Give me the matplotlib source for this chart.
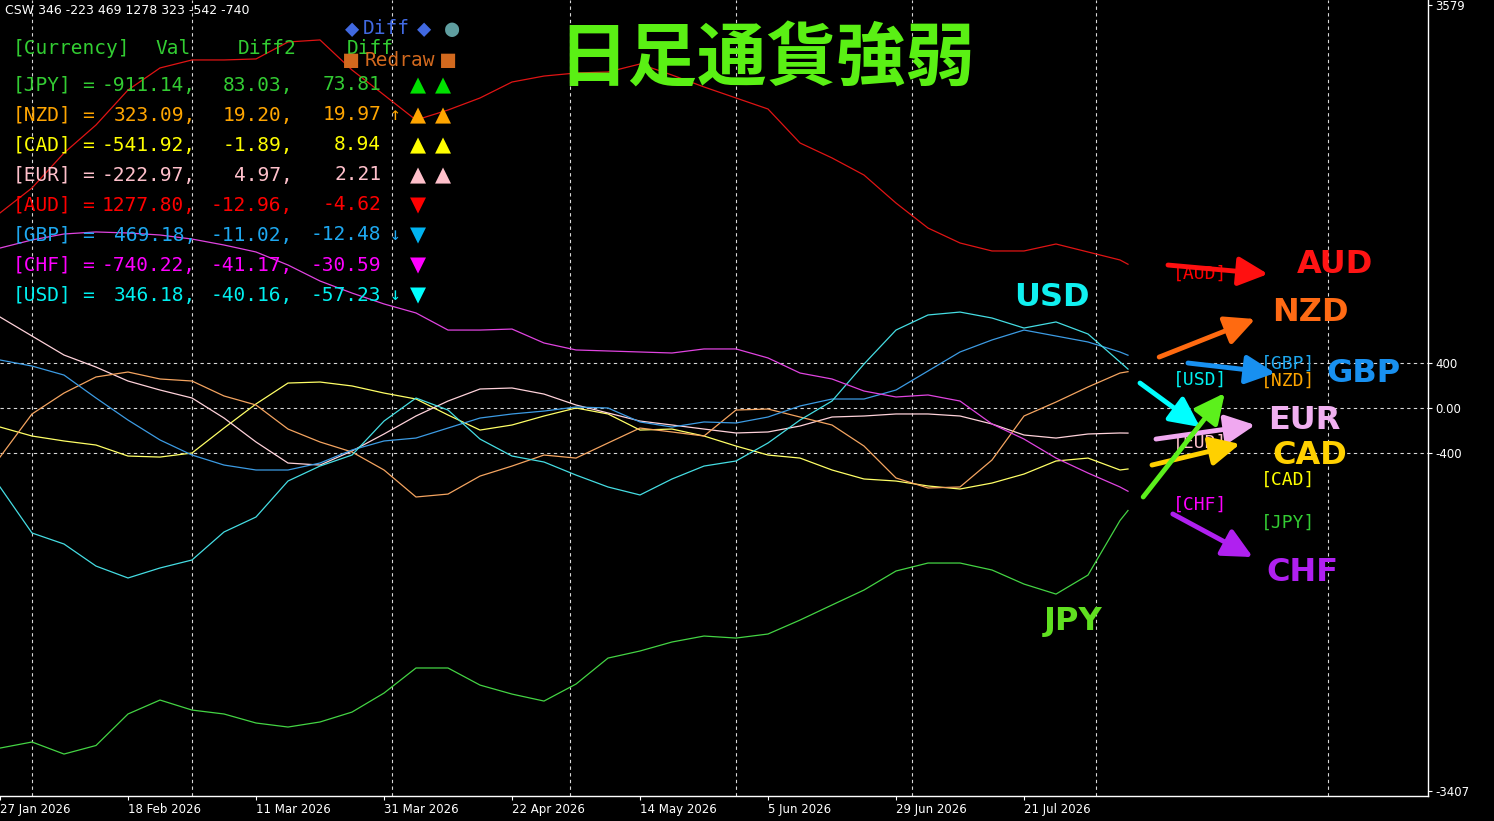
import matplotlib
matplotlib.use("Agg")
import matplotlib.pyplot as plt
import pandas as pd

plt.rcParams["font.family"] = ["DejaVu Sans", "Noto Sans CJK JP"]

W, H = 1494, 821

# 足番号 (4本ごと + 最終足)
bars = list(range(0, 141, 4)) + [141]

usd = [-702, -1111, -1209, -1405, -1511, -1422, -1351, -1102, -969, -649, -516, -418, -116, 89,
       -18, -276, -427, -480, -596, -702, -773, -631, -516, -471, -311, -107, 62, 391, 693, 827,
       853, 800, 711, 765, 658, 409, 346]
eur = [809, 640, 471, 364, 240, 160, 89, -89, -302, -489, -507, -382, -231, -71, 62, 169, 178,
       124, 27, -44, -116, -151, -187, -222, -213, -160, -80, -71, -53, -53, -71, -142, -240,
       -267, -231, -222, -223]
gbp = [427, 373, 293, 89, -107, -284, -418, -507, -551, -551, -489, -373, -293, -267, -178, -89,
       -53, -27, 9, 0, -124, -169, -124, -133, -80, 18, 80, 80, 160, 329, 498, 605, 693, 640,
       587, 498, 469]
aud = [1734, 1956, 2267, 2516, 2827, 3023, 3094, 3094, 3103, 3254, 3272, 3005, 2783, 2560, 2649,
       2756, 2898, 2951, 2978, 2987, 3058, 2960, 2854, 2756, 2658, 2356, 2223, 2071, 1822, 1600,
       1467, 1396, 1396, 1458, 1387, 1316, 1278]
nzd = [-436, -53, 133, 276, 320, 258, 240, 107, 27, -187, -302, -391, -551, -791, -765, -605,
       -516, -418, -445, -311, -178, -213, -249, -18, -9, -80, -151, -338, -622, -711, -702,
       -462, -71, 53, 187, 311, 323]
cad = [-169, -249, -293, -329, -427, -436, -400, -178, 36, 222, 231, 196, 133, 80, -62, -196,
       -151, -71, 0, -53, -196, -187, -249, -338, -418, -445, -551, -631, -649, -693, -720,
       -667, -587, -471, -445, -551, -542]
chf = [1422, 1494, 1547, 1565, 1556, 1538, 1502, 1449, 1387, 1271, 1129, 1022, 925, 845, 693,
       693, 702, 578, 516, 507, 498, 489, 525, 525, 445, 311, 258, 151, 98, 116, 62, -142, -276,
       -445, -578, -702, -740]
jpy = [-3023, -2969, -3076, -3000, -2720, -2596, -2685, -2720, -2800, -2836, -2791, -2703, -2534,
       -2311, -2311, -2463, -2543, -2605, -2454, -2223, -2160, -2080, -2027, -2045, -2009, -1885,
       -1751, -1618, -1449, -1378, -1378, -1440, -1565, -1654, -1485, -1000, -911]

date_ticks = [0, 16, 32, 48, 64, 80, 96, 112, 128]
date_labels = ["27 Jan 2026", "18 Feb 2026", "11 Mar 2026", "31 Mar 2026", "22 Apr 2026",
               "14 May 2026", "5 Jun 2026", "29 Jun 2026", "21 Jul 2026"]
month_starts = [4, 24, 49, 71.2, 92, 114, 137, 166]
level_lines = [400, 0, -400]
y_ticks = [3579, 400, 0, -400, -3407]
y_tick_labels = ["3579", "400", "0.00", "-400", "-3407"]

# 表示テーブル
table_currencies = ["JPY", "NZD", "CAD", "EUR", "AUD", "GBP", "CHF", "USD"]
table_val = [-911.14, 323.09, -541.92, -222.97, 1277.80, 469.18, -740.22, 346.18]
table_diff2 = [83.03, 19.20, -1.89, 4.97, -12.96, -11.02, -41.17, -40.16]
table_diff = [73.81, 19.97, 8.94, 2.21, -4.62, -12.48, -30.59, -57.23]
table_arrow = ["", "↑", "", "", "", "↓", "", "↓"]
table_marks = ["▲▲", "▲▲", "▲▲", "▲▲", "▼", "▼", "▼", "▼"]
csw_order = ["USD", "EUR", "GBP", "AUD", "NZD", "CAD", "CHF"]

line_colors = {
    "USD": "#45dde3", "EUR": "#ffd2da", "GBP": "#3c9be3", "AUD": "#e01414",
    "NZD": "#f4a460", "CAD": "#ffff66", "CHF": "#e044e0", "JPY": "#44d444",
}
text_colors = {
    "JPY": "#33cc33", "NZD": "#ffa500", "CAD": "#ffff00", "EUR": "#ffc0cb",
    "AUD": "#ff0000", "GBP": "#1ea8f0", "CHF": "#ff00ff", "USD": "#00f0f0",
}
mark_colors = {
    "JPY": "#00e000", "NZD": "#ffa500", "CAD": "#ffff00", "EUR": "#ffc0cb",
    "AUD": "#ff0000", "GBP": "#00b4f0", "CHF": "#ff00ff", "USD": "#00ffff",
}

strength = pd.DataFrame(
    {"USD": usd, "EUR": eur, "GBP": gbp, "AUD": aud, "NZD": nzd, "CAD": cad, "CHF": chf, "JPY": jpy},
    index=bars,
)


def fx(x):
    return x / W


def fy(y):
    return 1 - y / H


fig = plt.figure(figsize=(W / 100, H / 100), dpi=100, facecolor="black")
ax = fig.add_axes([0, 25 / H, 1428 / W, 796 / H])
ax.set_facecolor("black")

for b in month_starts:
    ax.axvline(b, color="#d8d8d8", lw=0.8, ls=(0, (3, 3)), zorder=1)
for lv in level_lines:
    ax.axhline(lv, color="#d8d8d8", lw=0.8, ls=(0, (3, 3)), zorder=1)

for cur in ["JPY", "CAD", "EUR", "NZD", "GBP", "USD", "CHF", "AUD"]:
    ax.plot(strength.index, strength[cur], color=line_colors[cur], lw=0.9, zorder=2)

ax.set_xlim(0, 178.5)
ax.set_ylim(-3449, 3627)
for side in ["left", "top"]:
    ax.spines[side].set_visible(False)
for side in ["right", "bottom"]:
    ax.spines[side].set_color("white")
    ax.spines[side].set_linewidth(1)

ax.yaxis.tick_right()
ax.set_yticks(y_ticks, y_tick_labels)
ax.set_xticks(date_ticks, date_labels)
for lab in ax.get_xticklabels():
    lab.set_ha("left")
ax.tick_params(axis="both", colors="white", labelsize=8.5, length=3, pad=2)

# 右側の矢印とラベル
mono = ["DejaVu Sans Mono", "DejaVu Sans"]
bracket_labels = [
    ("AUD", 150, 1191), ("GBP", 161, 391), ("NZD", 161, 240), ("USD", 150, 249),
    ("EUR", 150, -311), ("CAD", 161, -640), ("CHF", 150, -862), ("JPY", 161, -1022),
]
for cur, bx, by in bracket_labels:
    ax.text(bx, by, f"[{cur}]", family=mono, fontsize=13, color=text_colors[cur],
            ha="center", va="center", zorder=3)

arrows = [
    ("#ff1010", (146, 1271), (158.5, 1191)),
    ("#ff6a10", (144.9, 453), (156.9, 791)),
    ("#1890f0", (148.5, 400), (159.4, 311)),
    ("#f0a8f0", (144.5, -276), (156.9, -151)),
    ("#ffd000", (144, -507), (155, -320)),
    ("#00ffff", (142.5, 222), (150, -169)),
    ("#5cf01c", (142.9, -791), (153.1, 133)),
    ("#b020f0", (146.6, -942), (156.6, -1325)),
]
for color, start, end in arrows:
    ax.annotate("", xy=end, xytext=start,
                arrowprops=dict(arrowstyle="-|>,head_length=0.45,head_width=0.22",
                                color=color, lw=3.5, mutation_scale=40,
                                shrinkA=0, shrinkB=0), zorder=4)

big_labels = [
    ("AUD", "#ff1414", 166.9, 1280), ("NZD", "#ff6a14", 163.75, 853),
    ("GBP", "#1890f0", 170.5, 311), ("EUR", "#f0b0f0", 163.1, -107),
    ("CAD", "#ffd000", 163.75, -418), ("CHF", "#b020f0", 162.75, -1458),
    ("USD", "#10f0f0", 131.5, 978), ("JPY", "#60e020", 134.1, -1902),
]
for name, color, bx, by in big_labels:
    ax.text(bx, by, name, family=["DejaVu Sans"], fontweight="bold",
            fontsize=23, color=color, ha="center", va="center", zorder=5)

# 左上のテーブル
csw = "CSW " + " ".join(str(round(table_val[table_currencies.index(c)])) for c in csw_order)
fig.text(fx(5), fy(11), csw, color="white", fontsize=9, va="center")

head_color = "#32cd32"
fig.text(fx(13), fy(48), "[Currency]", family=mono, fontsize=14, color=head_color, va="center")
fig.text(fx(155), fy(48), "Val", family=mono, fontsize=14, color=head_color, va="center")
fig.text(fx(238), fy(48), "Diff2", family=mono, fontsize=14, color=head_color, va="center")
fig.text(fx(347), fy(48), "Diff", family=mono, fontsize=14, color=head_color, va="center")

fig.text(fx(352), fy(29), "◆", family=mono, fontsize=17, color="#4169e1", ha="center", va="center")
fig.text(fx(363), fy(29), "Diff", family=mono, fontsize=14, color="#4169e1", va="center")
fig.text(fx(424), fy(29), "◆", family=mono, fontsize=17, color="#4169e1", ha="center", va="center")
fig.text(fx(452), fy(29), "●", family=mono, fontsize=17, color="#5f9ea0", ha="center", va="center")
fig.text(fx(351), fy(60), "■", family=mono, fontsize=17, color="#d2691e", ha="center", va="center")
fig.text(fx(365), fy(60), "Redraw", family=mono, fontsize=14, color="#d2691e", va="center")
fig.text(fx(448), fy(60), "■", family=mono, fontsize=17, color="#d2691e", ha="center", va="center")

for i, cur in enumerate(table_currencies):
    y = 85 + 30 * i
    c = text_colors[cur]
    fig.text(fx(13), fy(y), f"[{cur}]", family=mono, fontsize=14, color=c, va="center")
    fig.text(fx(88), fy(y), "=", family=mono, fontsize=14, color=c, ha="center", va="center")
    fig.text(fx(196), fy(y), f"{table_val[i]:.2f},", family=mono, fontsize=14, color=c,
             ha="right", va="center")
    fig.text(fx(293), fy(y), f"{table_diff2[i]:.2f},", family=mono, fontsize=14, color=c,
             ha="right", va="center")
    fig.text(fx(381), fy(y), f"{table_diff[i]:.2f}", family=mono, fontsize=14, color=c,
             ha="right", va="center")
    if table_arrow[i]:
        fig.text(fx(395), fy(y), table_arrow[i], family=mono, fontsize=13, color=c,
                 ha="center", va="center")
    for j, m in enumerate(table_marks[i]):
        fig.text(fx(418 + 25 * j), fy(y), m, family=["DejaVu Sans"], fontsize=15,
                 color=mark_colors[cur], ha="center", va="center")

fig.text(fx(767), fy(60), "日足通貨強弱", family=["Noto Sans CJK JP"], fontweight="bold",
         fontsize=50, color="#5af014", ha="center", va="center")

fig.savefig("out.png", dpi=100, facecolor="black")
